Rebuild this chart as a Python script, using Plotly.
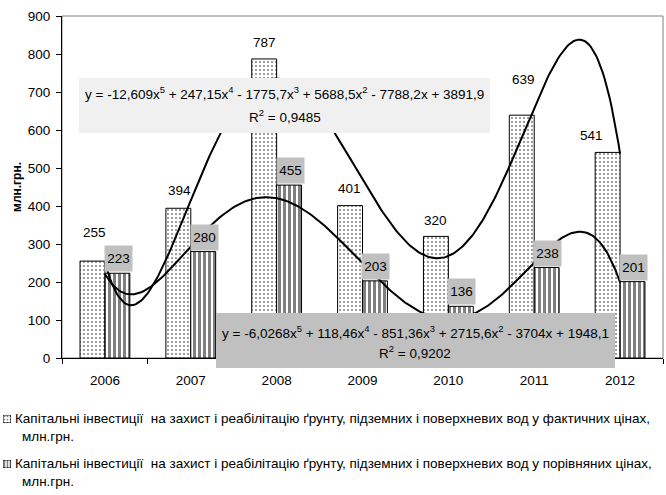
import numpy as np
import plotly.graph_objects as go

years = ["2006", "2007", "2008", "2009", "2010", "2011", "2012"]
actual = [255, 394, 787, 401, 320, 639, 541]
comparable = [223, 280, 455, 203, 136, 238, 201]

legend_actual = ["Капітальні інвестиції  на захист і реабілітацію ґрунту, підземних і поверхневих вод у фактичних цінах,",
                 "млн.грн."]
legend_comp = ["Капітальні інвестиції  на захист і реабілітацію ґрунту, підземних і поверхневих вод у порівняних цінах,",
               "млн.грн."]
eq1 = "y = -12,609x<sup>5</sup> + 247,15x<sup>4</sup> - 1775,7x<sup>3</sup> + 5688,5x<sup>2</sup> - 7788,2x + 3891,9"
r2_1 = "R<sup>2</sup> = 0,9485"
eq2 = "y = -6,0268x<sup>5</sup> + 118,46x<sup>4</sup> - 851,36x<sup>3</sup> + 2715,6x<sup>2</sup> - 3704x + 1948,1"
r2_2 = "R<sup>2</sup> = 0,9202"
y_title = "млн.грн."

FONT = "Liberation Sans, Arial, sans-serif"
FW, FH = 666, 495
PL, PR, PT, PB = 62, 663, 16, 358  # plot area in window pixels


def px(x):
    return x / FW


def py(y):
    return (FH - y) / FH


idx = np.arange(len(years))
bargap = 0.42
off = (1 - bargap) / 4

dots = dict(shape=".", fgcolor="black", bgcolor="white", size=4, solidity=0.2)
stripes = dict(shape="|", fgcolor="black", bgcolor="white", size=5, solidity=0.6)

fig = go.Figure()
fig.add_bar(x=idx, y=actual, showlegend=False,
            marker=dict(color="white", line=dict(color="black", width=1), pattern=dots))
fig.add_bar(x=idx, y=comparable, showlegend=False,
            marker=dict(color="white", line=dict(color="black", width=1), pattern=stripes))

# polynomial (degree 5) trend lines, as in the original chart
xs = np.linspace(1, len(years), 300)
for vals in (actual, comparable):
    c = np.polyfit(np.arange(1, len(years) + 1), vals, 5)
    fig.add_scatter(x=xs - 1, y=np.polyval(c, xs), mode="lines", showlegend=False,
                    line=dict(color="black", width=2), hoverinfo="skip")

# legend icons (tiny bars on their own axes)
fig.add_bar(x=[0], y=[1], width=[1], xaxis="x3", yaxis="y3", showlegend=False, hoverinfo="skip",
            marker=dict(color="white", line=dict(color="black", width=1),
                        pattern=dict(shape=".", fgcolor="black", bgcolor="white", size=3, solidity=0.25)))
fig.add_bar(x=[0], y=[1], width=[1], xaxis="x4", yaxis="y4", showlegend=False, hoverinfo="skip",
            marker=dict(color="white", line=dict(color="black", width=1),
                        pattern=dict(shape="|", fgcolor="black", bgcolor="white", size=3, solidity=0.5)))

ann = []
# labels of the first series (manual offsets in px)
lab_shift = [(2, 29), (1, 18), (0, 16), (-1, 17), (0, 16), (2, 36), (-16, 17)]
for i, v in enumerate(actual):
    dx, dy = lab_shift[i]
    ann.append(dict(x=i - off, y=v, xref="x", yref="y", text=str(v), showarrow=False,
                    xshift=dx, yshift=dy, yanchor="middle",
                    font=dict(family=FONT, size=13.5, color="black")))
for i, v in enumerate(comparable):
    ann.append(dict(x=i + off, y=v, xref="x", yref="y", text=str(v), showarrow=False,
                    xshift=1, yshift=1, yanchor="bottom", width=27, height=25, borderpad=0,
                    bgcolor="#c0c0c0", font=dict(family=FONT, size=13.5, color="black")))

shapes = [
    dict(type="rect", xref="x domain", yref="y domain", x0=0, x1=1, y0=0, y1=1,
         line=dict(color="#808080", width=1), layer="below"),
    dict(type="rect", xref="paper", yref="paper", x0=px(79), x1=px(490), y0=py(133), y1=py(78),
         fillcolor="#f0f0f0", line=dict(width=0), layer="above"),
    dict(type="rect", xref="paper", yref="paper", x0=px(216), x1=px(615), y0=py(368), y1=py(313),
         fillcolor="#c0c0c0", line=dict(width=0), layer="above"),
]
for text, xc, yc in [(eq1, 284.5, 93), (r2_1, 284.5, 116), (eq2, 415.5, 332), (r2_2, 415.5, 352)]:
    ann.append(dict(x=px(xc), y=py(yc), xref="paper", yref="paper", text=text, showarrow=False,
                    xanchor="center", yanchor="middle", font=dict(family=FONT, size=13.5, color="black")))

# legend texts
for lines, y1 in [(legend_actual, 418), (legend_comp, 463)]:
    ann.append(dict(x=px(13), y=py(y1), xref="paper", yref="paper", text=lines[0], showarrow=False,
                    xanchor="left", yanchor="middle", font=dict(family=FONT, size=13.5, color="black")))
    ann.append(dict(x=px(20), y=py(y1 + 18), xref="paper", yref="paper", text=lines[1], showarrow=False,
                    xanchor="left", yanchor="middle", font=dict(family=FONT, size=13.5, color="black")))

# y axis title
ann.append(dict(x=px(17), y=py((PT + PB) / 2), xref="paper", yref="paper", text="<b>" + y_title + "</b>",
                textangle=-90, showarrow=False, xanchor="center", yanchor="middle",
                font=dict(family=FONT, size=12, color="black")))

fig.update_layout(
    width=FW, height=FH,
    margin=dict(l=0, r=0, t=0, b=0, pad=0),
    paper_bgcolor="white", plot_bgcolor="white",
    barmode="group", bargap=bargap, bargroupgap=0,
    font=dict(family=FONT, size=13, color="black"),
    shapes=shapes, annotations=ann,
    showlegend=False,
    xaxis=dict(domain=[px(PL), px(PR)], anchor="y", automargin=False,
               range=[-0.5, len(years) - 0.5], tickvals=list(idx), ticktext=years, ticks="",
               showline=True, linecolor="black", linewidth=1, showgrid=False, zeroline=False,
               minor=dict(ticks="outside", tick0=-0.5, dtick=1, ticklen=5, tickcolor="black", showgrid=False),
               tickfont=dict(family=FONT, size=13.5), ticklabelstandoff=10),
    yaxis=dict(domain=[py(PB), py(PT)], anchor="x", automargin=False,
               range=[0, 900], dtick=100, ticks="outside", ticklen=5, tickcolor="black",
               showline=True, linecolor="black", linewidth=1, showgrid=False, zeroline=False,
               tickfont=dict(family=FONT, size=13.5), ticklabelstandoff=3),
    xaxis3=dict(domain=[px(3), px(11)], anchor="y3", range=[-0.5, 0.5], visible=False, fixedrange=True),
    yaxis3=dict(domain=[py(423), py(415)], anchor="x3", range=[0, 1], visible=False, fixedrange=True),
    xaxis4=dict(domain=[px(3), px(11)], anchor="y4", range=[-0.5, 0.5], visible=False, fixedrange=True),
    yaxis4=dict(domain=[py(468), py(460)], anchor="x4", range=[0, 1], visible=False, fixedrange=True),
)

fig.write_html("out.html", config={"displayModeBar": False},
               post_script="document.body.style.margin='0px';")
